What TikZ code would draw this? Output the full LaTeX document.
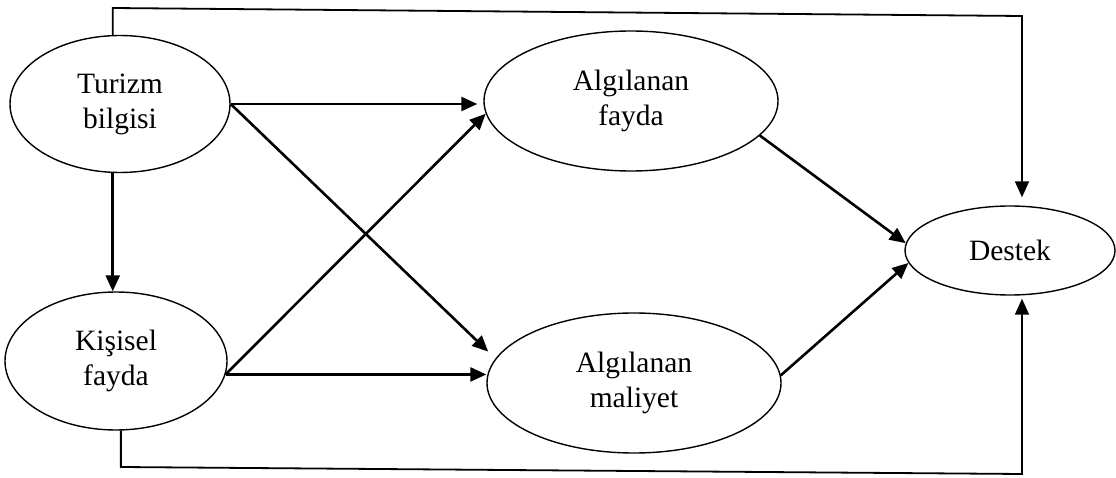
\documentclass[tikz,border=0pt]{standalone}
\usepackage{fontspec}
\setmainfont{Liberation Serif}
\usetikzlibrary{shapes.geometric,arrows.meta,calc}
\begin{document}
\begin{tikzpicture}[x=1pt,y=-1pt,
  oval/.style={draw,ellipse,line width=1.4pt,inner sep=0pt,align=center,
    font=\fontsize{29.5}{35}\selectfont},
  tip/.style={-{Triangle[length=16pt,width=14pt]}},
  arr/.style={line width=2.6pt,tip},
  connarr/.style={line width=1.8pt,tip}]
\useasboundingbox (0,0) rectangle (1116,478);
\node[oval,minimum width=220pt,minimum height=137pt] (TB) at (120,104) {Turizm\\bilgisi};
\node[oval,minimum width=222pt,minimum height=138pt] (KF) at (116,361) {Ki\c{s}isel\\fayda};
\node[oval,minimum width=294pt,minimum height=140pt] (AF) at (631,101) {Alg\i lanan\\fayda};
\node[oval,minimum width=294pt,minimum height=140pt] (AM) at (634,383) {Alg\i lanan\\maliyet};
\node[oval,minimum width=210pt,minimum height=89pt] (DS) at (1010,250.5) {Destek};
\coordinate (c1) at (113,8);
\coordinate (c2) at (1022,16);
\coordinate (c3) at (121,467);
\coordinate (c4) at (1022,474);
% top connector
\draw[connarr,shorten >=8pt] (TB.96) -- (TB.96 |- c1) -- (c2) -- (c2 |- DS.north);
% bottom connector
\draw[connarr,shorten >=3pt] (KF.274) -- (KF.274 |- c3) -- (c4) -- (c4 |- DS.south);
% Turizm -> Kisisel
\draw[arr] (TB.264) -- (TB.264 |- KF.north);
% Turizm -> Algilanan fayda / maliyet
\draw[arr,shorten >=6pt] (TB.east) -- (TB.east -| AF.west);
\draw[arr,shorten >=10pt] (TB.east) -- (AM.170);
% Kisisel -> Algilanan fayda / maliyet
\draw[arr] (KF.-7) -- (AF.185);
\draw[arr] (KF.-7) -- (KF.-7 -| AM.west);
% -> Destek
\draw[arr] (AF.-15) -- (DS.176);
\draw[arr] (AM.3) -- (DS.187);
\end{tikzpicture}
\end{document}
